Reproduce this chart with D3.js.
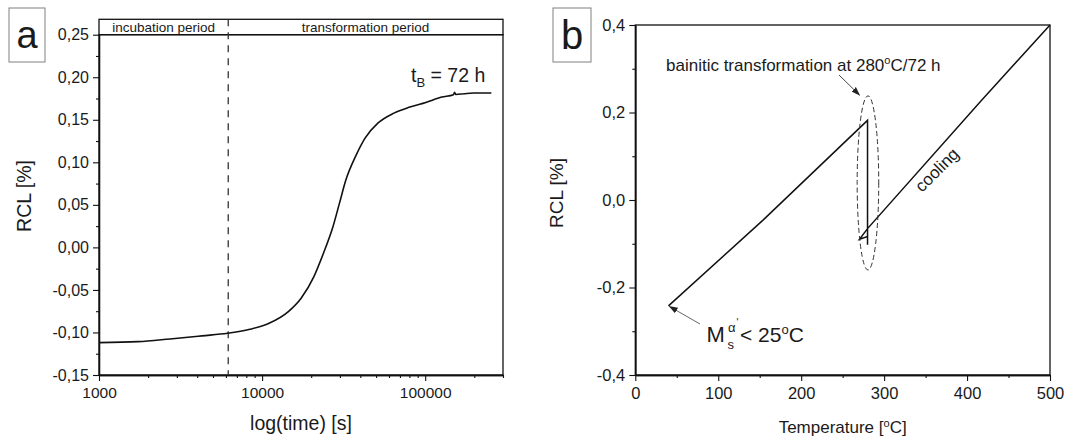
<!DOCTYPE html>
<html><head><meta charset="utf-8">
<script src="https://cdn.jsdelivr.net/npm/d3@7"></script>
<style>
body{margin:0;background:#fff;}
svg{display:block;font-family:"Liberation Sans",Arial,sans-serif;}
text{fill:#1a1a1a;}
</style></head>
<body><svg id="c" width="1092" height="441"></svg>
<script>
// ---------- data ----------
// panel a: RCL vs time at 280 °C
const timeA = [1000,1734,2723,4276,6140,8414,11040,14490,17350,20780,23780,27220,29820,32660,37410,42790,51260,64270,80570,100900,126500,149000,151500,154000,173300,198600,254500];
const rclA  = [-0.112,-0.1108,-0.1076,-0.104,-0.101,-0.0963,-0.0892,-0.0755,-0.0598,-0.0343,-0.0069,0.0245,0.052,0.0794,0.1069,0.1284,0.146,0.1578,0.1649,0.1704,0.1767,0.1795,0.1822,0.1797,0.1806,0.1814,0.1814];
const incubationEnd = 6200;
const xTicksA = [1000,10000,100000];
const xMinorA = [2000,3000,4000,5000,6000,7000,8000,9000,20000,30000,40000,50000,60000,70000,80000,90000,200000,300000];
const yTicksA = [-0.15,-0.10,-0.05,0.00,0.05,0.10,0.15,0.20,0.25];
const yMinorA = [-0.125,-0.075,-0.025,0.025,0.075,0.125,0.175,0.225];
const periodLabels = ["incubation period","transformation period"];

// panel b: RCL vs temperature (dilatometric curve)
const tempB = [500,417,280,270.3,280,280,280,154,40];
const rclB  = [0.4,0.227,-0.0654,-0.0896,-0.0837,-0.102,0.182,-0.046,-0.242];
const ellipseB = {t:280.5, v:0.039, rt:13, rv:0.199};
const xTicksB = [0,100,200,300,400,500];
const xMinorB = [50,150,250,350,450];
const yTicksB = [-0.4,-0.2,0.0,0.2,0.4];
const yMinorB = [-0.3,-0.1,0.1,0.3];

// ---------- drawing ----------
const svg = d3.select("#c");
const comma = f => (v => d3.format(f)(v).replace("−","-").replace(".",","));

function defs(){
  const d = svg.append("defs");
  d.append("marker").attr("id","ah").attr("viewBox","0 0 10 10").attr("refX",9).attr("refY",5)
   .attr("markerWidth",9).attr("markerHeight",9).attr("orient","auto-start-reverse").attr("markerUnits","userSpaceOnUse")
   .append("path").attr("d","M0,1.5 L10,5 L0,8.5 Z").attr("fill","#222");
}
defs();

function labelBox(x,y,w,h,txt,fs){
  svg.append("rect").attr("x",x).attr("y",y).attr("width",w).attr("height",h)
    .attr("fill","#fff").attr("stroke","#808080").attr("stroke-width",1);
  svg.append("text").attr("x",x+w/2).attr("y",y+h/2).attr("text-anchor","middle")
    .attr("dominant-baseline","central").attr("font-size",fs).text(txt);
}

function axisStyle(g,fs){
  g.selectAll("path.domain").attr("stroke","#111").attr("stroke-width",1.3);
  g.selectAll(".tick line").attr("stroke","#111").attr("stroke-width",1.1);
  g.selectAll(".tick text").attr("font-size",fs).attr("fill","#1a1a1a").attr("font-family","Liberation Sans, Arial, sans-serif");
}

// ===== Panel a =====
(function(){
  const L=99,R=503,T=34.7,B=375,H0=19.3;
  const x = d3.scaleLog().domain([1000,300000]).range([L,R]);
  const y = d3.scaleLinear().domain([-0.15,0.25]).range([B,T]);

  labelBox(9,8,36,54,"a",38);

  // header box
  svg.append("rect").attr("x",L).attr("y",H0).attr("width",R-L).attr("height",T-H0)
    .attr("fill","none").attr("stroke","#111").attr("stroke-width",1.3);
  const xi = x(incubationEnd);
  svg.append("text").attr("x",(L+xi)/2).attr("y",31.5).attr("text-anchor","middle").attr("font-size",13.5).text(periodLabels[0]);
  svg.append("text").attr("x",(xi+R)/2).attr("y",31.5).attr("text-anchor","middle").attr("font-size",13.5).text(periodLabels[1]);

  // frame
  svg.append("rect").attr("x",L).attr("y",T).attr("width",R-L).attr("height",B-T)
    .attr("fill","none").attr("stroke","#111").attr("stroke-width",1.3);

  // axes
  const gx = svg.append("g").attr("transform",`translate(0,${B})`)
    .call(d3.axisBottom(x).tickValues(xTicksA).tickFormat(d3.format("d")).tickSize(6).tickSizeOuter(0).tickPadding(6));
  axisStyle(gx,15.5);
  const gxm = svg.append("g").attr("transform",`translate(0,${B})`)
    .call(d3.axisBottom(x).tickValues(xMinorA).tickFormat("").tickSize(3).tickSizeOuter(0));
  axisStyle(gxm,15);
  const gy = svg.append("g").attr("transform",`translate(${L},0)`)
    .call(d3.axisLeft(y).tickValues(yTicksA).tickFormat(comma(".2f")).tickSize(6).tickSizeOuter(0).tickPadding(4));
  axisStyle(gy,16);
  const gym = svg.append("g").attr("transform",`translate(${L},0)`)
    .call(d3.axisLeft(y).tickValues(yMinorA).tickFormat("").tickSize(3).tickSizeOuter(0));
  axisStyle(gym,15);

  // dashed divider
  svg.append("line").attr("x1",xi).attr("x2",xi).attr("y1",H0).attr("y2",B)
    .attr("stroke","#333").attr("stroke-width",1.3).attr("stroke-dasharray","7,6");

  // curve
  const pts = timeA.map((t,i)=>[t,rclA[i]]);
  svg.append("path").datum(pts).attr("fill","none").attr("stroke","#111").attr("stroke-width",1.6)
    .attr("d",d3.line().x(d=>x(d[0])).y(d=>y(d[1])).curve(d3.curveMonotoneX));

  // titles
  svg.append("text").attr("x",(L+R)/2).attr("y",430).attr("text-anchor","middle").attr("font-size",19.5).text("log(time) [s]");
  svg.append("text").attr("transform",`translate(31,196) rotate(-90)`).attr("text-anchor","middle").attr("font-size",19.5).text("RCL [%]");

  // t_B label
  const tb = svg.append("text").attr("x",411).attr("y",81.5).attr("font-size",19.5);
  tb.append("tspan").text("t");
  tb.append("tspan").attr("dy",5).attr("font-size",13).text("B");
  tb.append("tspan").attr("dy",-5).text(" = 72 h");
})();

// ===== Panel b =====
(function(){
  const L=635.3,R=1050,T=25,B=375;
  const x = d3.scaleLinear().domain([0,500]).range([L,R]);
  const y = d3.scaleLinear().domain([-0.4,0.4]).range([B,T]);

  labelBox(553,8,38,54,"b",40);

  svg.append("rect").attr("x",L).attr("y",T).attr("width",R-L).attr("height",B-T)
    .attr("fill","none").attr("stroke","#111").attr("stroke-width",1.3);

  const gx = svg.append("g").attr("transform",`translate(0,${B})`)
    .call(d3.axisBottom(x).tickValues(xTicksB).tickFormat(d3.format("d")).tickSize(6).tickSizeOuter(0).tickPadding(6));
  axisStyle(gx,16.5);
  const gxm = svg.append("g").attr("transform",`translate(0,${B})`)
    .call(d3.axisBottom(x).tickValues(xMinorB).tickFormat("").tickSize(3).tickSizeOuter(0));
  axisStyle(gxm,15);
  const gy = svg.append("g").attr("transform",`translate(${L},0)`)
    .call(d3.axisLeft(y).tickValues(yTicksB).tickFormat(comma(".1f")).tickSize(6).tickSizeOuter(0).tickPadding(4));
  axisStyle(gy,16.5);
  const gym = svg.append("g").attr("transform",`translate(${L},0)`)
    .call(d3.axisLeft(y).tickValues(yMinorB).tickFormat("").tickSize(3).tickSizeOuter(0));
  axisStyle(gym,15);

  // curve
  const pts = tempB.map((t,i)=>[t,rclB[i]]);
  svg.append("path").datum(pts).attr("fill","none").attr("stroke","#111").attr("stroke-width",1.5)
    .attr("stroke-linejoin","miter").attr("d",d3.line().x(d=>x(d[0])).y(d=>y(d[1])));

  // dashed ellipse
  const e = ellipseB;
  svg.append("ellipse").attr("cx",x(e.t)).attr("cy",y(e.v))
    .attr("rx",x(e.t+e.rt)-x(e.t)).attr("ry",y(e.v)-y(e.v+e.rv))
    .attr("fill","none").attr("stroke","#333").attr("stroke-width",1).attr("stroke-dasharray","5,3");

  // annotations
  const bt = svg.append("text").attr("x",666).attr("y",70.5).attr("font-size",17);
  bt.append("tspan").text("bainitic transformation at 280");
  bt.append("tspan").attr("dy",-7).attr("font-size",11).text("o");
  bt.append("tspan").attr("dy",7).text("C/72 h");
  svg.append("line").attr("x1",839).attr("y1",75).attr("x2",859.5).attr("y2",95)
    .attr("stroke","#333").attr("stroke-width",0.9).attr("marker-end","url(#ah)");

  svg.append("line").attr("x1",700).attr("y1",324).attr("x2",669.5).attr("y2",306.5)
    .attr("stroke","#555").attr("stroke-width",0.9).attr("marker-end","url(#ah)");
  svg.append("text").attr("x",706.5).attr("y",341.5).attr("font-size",22).text("M");
  svg.append("text").attr("x",727.5).attr("y",349).attr("font-size",13).text("s");
  svg.append("text").attr("x",728).attr("y",332).attr("font-size",13).text("α");
  svg.append("text").attr("x",736.5).attr("y",326).attr("font-size",10).text("'");
  const ms = svg.append("text").attr("x",740).attr("y",341.5).attr("font-size",21);
  ms.append("tspan").text("< 25");
  ms.append("tspan").attr("dy",-8).attr("font-size",13).text("o");
  ms.append("tspan").attr("dy",8).text("C");

  svg.append("text").attr("transform","translate(941,174) rotate(-45)").attr("text-anchor","middle")
    .attr("font-size",17).text("cooling");

  // titles
  const tt = svg.append("text").attr("x",(L+R)/2).attr("y",433).attr("text-anchor","middle").attr("font-size",17);
  tt.append("tspan").text("Temperature [");
  tt.append("tspan").attr("dy",-6).attr("font-size",11).text("o");
  tt.append("tspan").attr("dy",6).text("C]");
  svg.append("text").attr("transform",`translate(563,193) rotate(-90)`).attr("text-anchor","middle").attr("font-size",19).text("RCL [%]");
})();
</script></body></html>
